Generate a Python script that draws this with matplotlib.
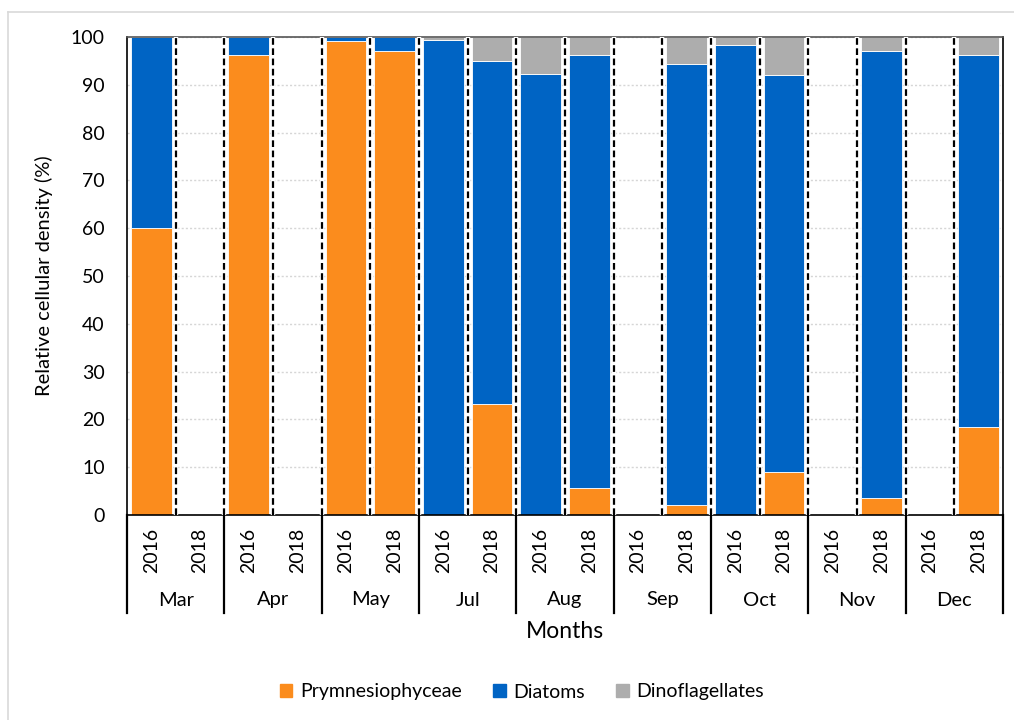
import matplotlib
matplotlib.use("Agg")
import matplotlib.pyplot as plt
import numpy as np
from matplotlib.lines import Line2D
from matplotlib.patches import Patch

plt.rcParams['font.family'] = ['Lato', 'DejaVu Sans']

months = ["Mar", "Apr", "May", "Jul", "Aug", "Sep", "Oct", "Nov", "Dec"]
years = ["2016", "2018"]

# values per bar in order: Mar2016, Mar2018, Apr2016, Apr2018, ...
prymnesiophyceae = [60.0, 0, 96.3, 0, 99.2, 97.0, 0, 23.3, 0, 5.6, 0, 2.1, 0, 9.0, 0, 3.6, 0, 18.4]
diatoms =          [40.0, 0, 3.7, 0, 0.8, 3.0, 99.4, 71.6, 92.3, 90.6, 0, 92.2, 98.4, 83.1, 0, 93.5, 0, 77.8]
dinoflagellates =  [0, 0, 0, 0, 0, 0, 0.6, 5.1, 7.7, 3.8, 0, 5.7, 1.6, 7.9, 0, 2.9, 0, 3.8]

c_pry = "#FB8C1D"
c_dia = "#0064C4"
c_din = "#ADADAD"

fig = plt.figure(figsize=(10.14, 7.2), dpi=100)
ax = fig.add_axes([127/1014, 1-515/720, (1003-127)/1014, (515-37)/720])

n = len(prymnesiophyceae)
x = np.arange(n)
p = np.array(prymnesiophyceae)
d = np.array(diatoms)
g = np.array(dinoflagellates)
w = 0.84
ax.bar(x, p, width=w, color=c_pry, edgecolor="white", linewidth=0.6, zorder=2)
ax.bar(x, d, width=w, bottom=p, color=c_dia, edgecolor="white", linewidth=0.6, zorder=2)
ax.bar(x, g, width=w, bottom=p + d, color=c_din, edgecolor="white", linewidth=0.6, zorder=2)

ax.set_xlim(-0.5, n - 0.5)
ax.set_ylim(0, 100)
ax.set_yticks(np.arange(0, 101, 10))
ax.yaxis.grid(True, linestyle=(0, (1.5, 1.5)), color="#D6D6D6", linewidth=1.0, zorder=0)
ax.set_axisbelow(True)

# dashed separators between bars
for b in np.arange(0.5, n - 0.5, 1.0):
    ax.plot([b, b], [0, 100], color="white", linewidth=3.2, zorder=3, solid_capstyle="butt")
    ax.plot([b, b], [0, 100], color="black", linewidth=1.6, linestyle=(0, (3, 1.6)), zorder=4)

for s in ax.spines.values():
    s.set_color("black")
    s.set_linewidth(1.2)
ax.spines['top'].set_color("#555555")

ax.set_xticks(x)
ax.set_xticklabels([years[i % 2] for i in range(n)], rotation=90, fontsize=14)
ax.tick_params(axis='x', length=0, pad=9)
ax.tick_params(axis='y', length=0, pad=16, labelsize=14)

trans = ax.get_xaxis_transform()
axh = 515 - 37
sep_bottom = -(613 - 515) / axh
month_y = -(600 - 515) / axh
for i, m in enumerate(months):
    ax.text(2 * i + 0.5, month_y, m, transform=trans, ha="center", va="center", fontsize=14.5)
for k in range(len(months) + 1):
    xb = 2 * k - 0.5
    ax.add_line(Line2D([xb, xb], [0, sep_bottom], transform=trans, color="black",
                       linewidth=1.6, clip_on=False))

ax.text(0.5, -(632 - 515) / axh, "Months", transform=ax.transAxes, ha="center", va="center", fontsize=16.5)
ax.set_ylabel("Relative cellular density (%)", fontsize=14.5)
ax.yaxis.set_label_coords(-(127 - 53) / 876, 0.5)

handles = [Patch(color=c_pry, label="Prymnesiophyceae"),
           Patch(color=c_dia, label="Diatoms"),
           Patch(color=c_din, label="Dinoflagellates")]
fig.legend(handles=handles, loc="center", bbox_to_anchor=(522 / 1014, 1 - 692 / 720), ncol=3,
           frameon=False, fontsize=14, handlelength=0.65, handleheight=0.65,
           handletextpad=0.4, columnspacing=1.6)

# outer faint border
fig.add_artist(Line2D([8/1014, 1.0], [1 - 12/720, 1 - 12/720], transform=fig.transFigure,
                      color="#D9D9D9", linewidth=1.2))
fig.add_artist(Line2D([8/1014, 8/1014], [0, 1 - 12/720], transform=fig.transFigure,
                      color="#D9D9D9", linewidth=1.2))

fig.savefig("out.png", dpi=100)
